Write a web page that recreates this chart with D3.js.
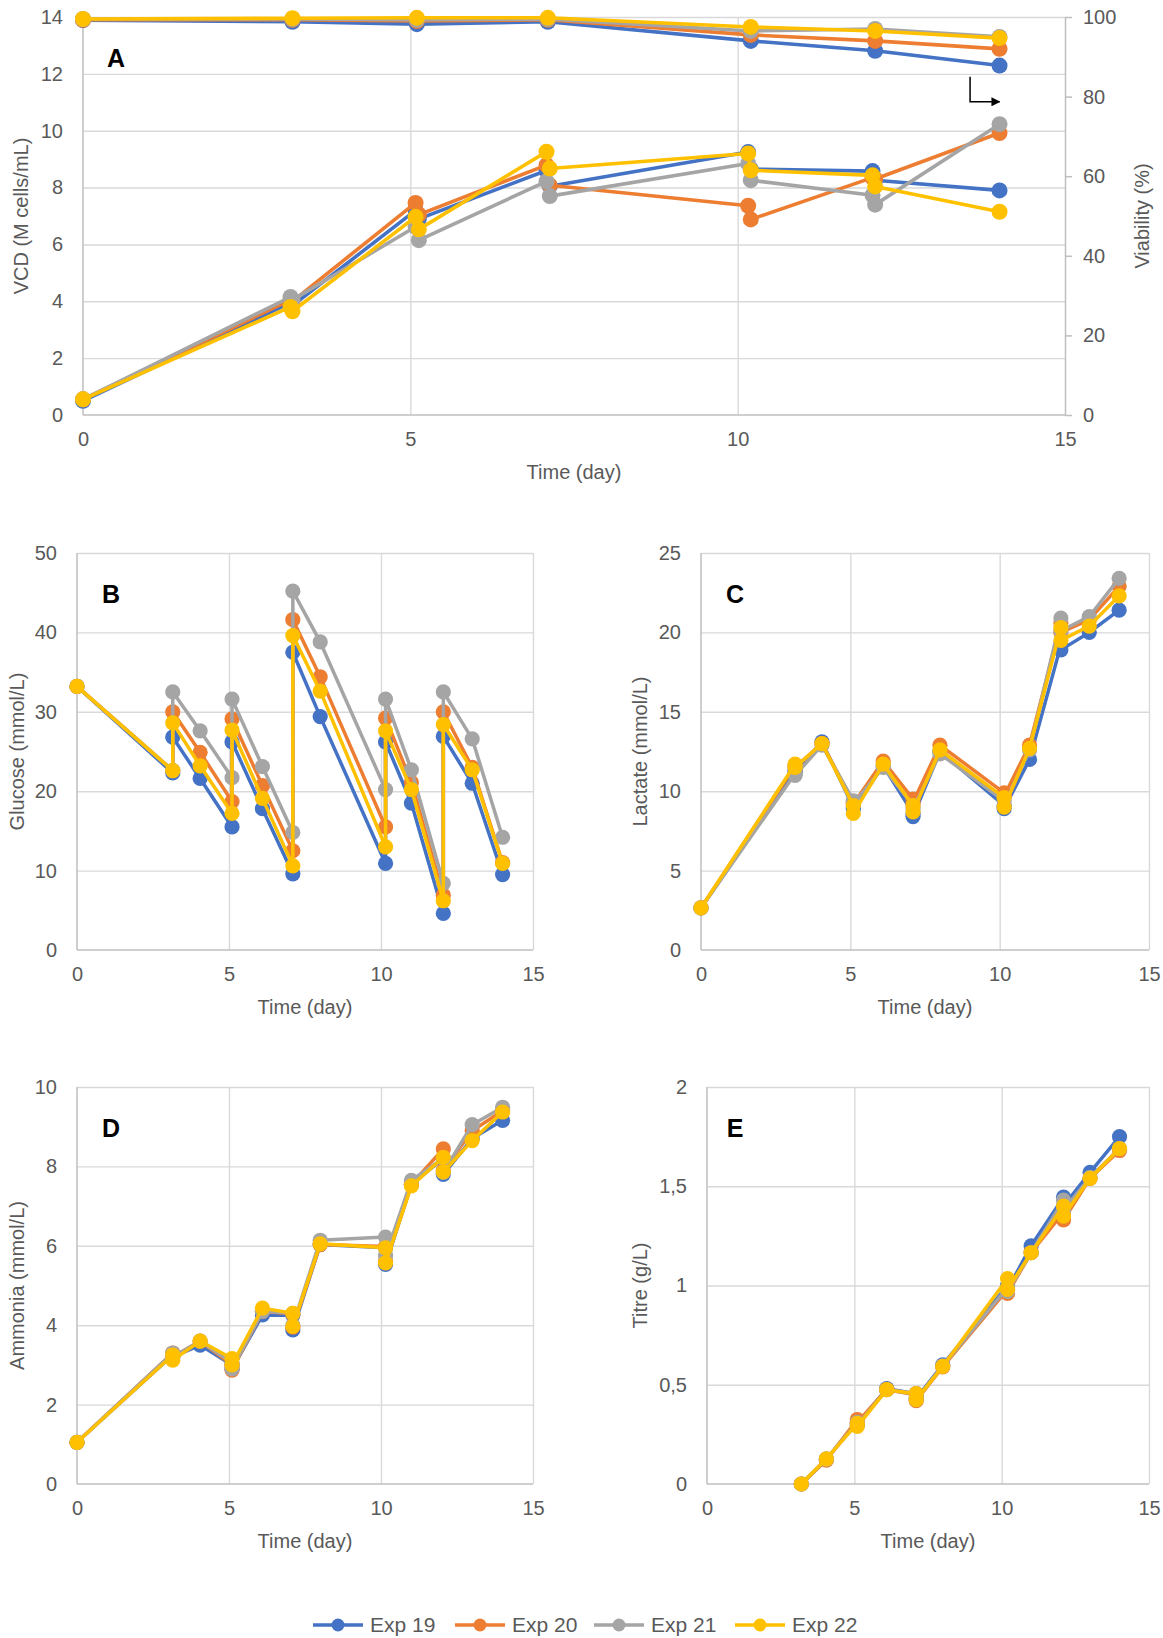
<!DOCTYPE html>
<html>
<head>
<meta charset="utf-8">
<script src="https://cdn.jsdelivr.net/npm/d3@7"></script>
<style>
  body { margin: 0; background: #fff; }
  text { font-family: "Liberation Sans", Arial, sans-serif; }
</style>
</head>
<body>
<svg id="chart" width="1163" height="1638"></svg>
<script>
  var seriesNames = ["Exp 19", "Exp 20", "Exp 21", "Exp 22"]
  var seriesColors = ["#4472C4", "#ED7D31", "#A5A5A5", "#FFC000"]
  var dayTicks = [0, 5, 10, 15]

  // panel A: VCD (left axis) and viability (right axis)
  var vcdDays = [0, 3.17, 3.2, 5.08, 5.13, 7.08, 7.13, 10.16, 10.2, 12.06, 12.1, 14]
  var vcd = [
    [0.5, 3.95, 3.85, 7.2, 6.9, 8.6, 8.05, 9.25, 8.65, 8.58, 8.26, 7.9],
    [0.55, 4.05, 4.0, 7.46, 7.05, 8.79, 8.08, 7.36, 6.88, 8.35, 8.3, 9.92],
    [0.55, 4.15, 4.05, 6.62, 6.15, 8.22, 7.7, 8.85, 8.26, 7.73, 7.4, 10.23],
    [0.55, 3.8, 3.65, 6.97, 6.53, 9.26, 8.67, 9.2, 8.61, 8.43, 8.04, 7.15]
  ]
  var vcdTicks = [0, 2, 4, 6, 8, 10, 12, 14]
  var viabilityDays = [0, 3.2, 5.1, 7.1, 10.2, 12.1, 14]
  var viability = [
    [99.2, 98.8, 98.2, 98.8, 94.0, 91.5, 87.8],
    [99.3, 99.3, 99.0, 99.3, 95.5, 94.0, 92.0],
    [99.5, 99.5, 99.3, 99.5, 96.5, 97.0, 95.0],
    [99.5, 99.7, 99.8, 99.8, 97.5, 96.5, 94.7]
  ]
  var viabilityTicks = [0, 20, 40, 60, 80, 100]

  // panels B, C, D: sampled before and after each feed
  var sampleDays = [0, 3.15, 3.15, 4.05, 5.1, 5.1, 6.1, 7.1, 7.1, 8, 10.15, 10.15, 11, 12.05, 12.05, 13, 14]
  var glucose = [
    [33.2, 22.3, 26.8, 21.6, 15.5, 26.2, 17.8, 9.6, 37.5, 29.4, 10.9, 26.2, 18.5, 4.6, 26.9, 21.0, 9.5],
    [33.2, 22.6, 30.0, 24.9, 18.7, 29.1, 20.7, 12.5, 41.6, 34.4, 15.5, 29.2, 21.1, 6.9, 30.0, 23.0, 11.0],
    [33.2, 22.6, 32.5, 27.6, 21.7, 31.6, 23.1, 14.8, 45.2, 38.8, 20.2, 31.6, 22.7, 8.4, 32.5, 26.6, 14.2],
    [33.2, 22.6, 28.6, 23.2, 17.2, 27.7, 19.1, 10.6, 39.6, 32.6, 13.0, 27.6, 20.2, 6.2, 28.4, 22.7, 10.9]
  ]
  var glucoseTicks = [0, 10, 20, 30, 40, 50]
  var lactate = [
    [2.65, 11.3, 11.2, 13.1, 9.0, 8.9, 11.6, 8.6, 8.4, 12.5, 9.1, 8.9, 12.0, 19.2, 18.9, 20.0, 21.4],
    [2.65, 11.6, 11.5, 13.0, 9.3, 9.2, 11.9, 9.5, 9.3, 12.9, 9.9, 9.7, 12.9, 20.6, 20.0, 20.8, 22.9],
    [2.65, 11.1, 11.0, 12.9, 9.4, 9.2, 11.5, 9.1, 8.9, 12.35, 9.4, 9.1, 12.6, 20.9, 20.1, 21.0, 23.4],
    [2.65, 11.7, 11.5, 13.0, 9.1, 8.6, 11.7, 9.1, 8.7, 12.6, 9.6, 9.0, 12.7, 20.3, 19.5, 20.4, 22.3]
  ]
  var lactateTicks = [0, 5, 10, 15, 20, 25]
  var ammonia = [
    [1.05, 3.25, 3.2, 3.5, 3.0, 2.9, 4.26, 4.25, 3.88, 6.03, 5.95, 5.53, 7.55, 8.2, 7.8, 8.7, 9.16],
    [1.05, 3.3, 3.2, 3.6, 3.0, 2.87, 4.35, 4.28, 3.95, 6.03, 5.98, 5.6, 7.55, 8.44, 7.9, 8.9, 9.4],
    [1.05, 3.3, 3.2, 3.6, 3.05, 2.9, 4.35, 4.3, 4.0, 6.14, 6.22, 5.75, 7.65, 8.2, 7.85, 9.05, 9.49],
    [1.05, 3.25, 3.12, 3.6, 3.16, 3.0, 4.43, 4.3, 3.97, 6.05, 5.95, 5.57, 7.51, 8.23, 7.86, 8.65, 9.37]
  ]
  var ammoniaTicks = [0, 2, 4, 6, 8, 10]

  // panel E: titre starts at day 3
  var titreDays = [3.2, 4.05, 5.1, 5.1, 6.1, 7.1, 7.1, 8, 10.2, 10.2, 11, 12.1, 12.1, 13, 14]
  var titre = [
    [0, 0.125, 0.31, 0.3, 0.48, 0.455, 0.43, 0.6, 1.0, 0.98, 1.2, 1.445, 1.4, 1.57, 1.75],
    [0, 0.12, 0.325, 0.31, 0.475, 0.45, 0.42, 0.59, 0.98, 0.96, 1.165, 1.37, 1.33, 1.54, 1.68],
    [0, 0.125, 0.31, 0.295, 0.475, 0.455, 0.425, 0.595, 0.99, 0.97, 1.165, 1.43, 1.38, 1.545, 1.69],
    [0, 0.127, 0.305, 0.29, 0.475, 0.455, 0.425, 0.593, 1.035, 0.98, 1.165, 1.4, 1.35, 1.54, 1.69]
  ]
  var titreTicks = [0, 0.5, 1, 1.5, 2]

  var svg = d3.select('#chart')
  var gridColor = "#d9d9d9"
  var axisColor = "#bfbfbf"
  var labelColor = "#595959"

  function drawSeries(g, x, y, days, values, r, w) {
    var line = d3.line()
      .x(function (d) { return x(d[0]) })
      .y(function (d) { return y(d[1]) })
    values.forEach(function (vals, i) {
      var pts = days.map(function (d, j) { return [d, vals[j]] })
      g.append("path")
        .attr("d", line(pts))
        .attr("fill", "none")
        .attr("stroke", seriesColors[i])
        .attr("stroke-width", w)
        .attr("stroke-linejoin", "round")
      g.append("g").selectAll("circle")
        .data(pts)
        .enter().append("circle")
        .attr("cx", function (d) { return x(d[0]) })
        .attr("cy", function (d) { return y(d[1]) })
        .attr("r", r)
        .attr("fill", seriesColors[i])
    })
  }

  function drawPanel(p) {
    var g = svg.append("g")
    var x = d3.scaleLinear().domain([0, 15]).range([p.left, p.right])
    var y = d3.scaleLinear().domain([0, p.yTicks[p.yTicks.length - 1]]).range([p.bottom, p.top])

    // grid
    g.append("g")
      .attr("transform", "translate(" + p.left + ",0)")
      .call(d3.axisLeft(y).tickValues(p.yTicks.slice(1)).tickSize(-(p.right - p.left)).tickFormat(""))
      .call(function (s) { s.select(".domain").remove() })
      .selectAll("line").attr("stroke", gridColor).attr("stroke-width", 1.4)
    g.append("g")
      .attr("transform", "translate(0," + p.bottom + ")")
      .call(d3.axisBottom(x).tickValues(p.xGrid).tickSize(-(p.bottom - p.top)).tickFormat(""))
      .call(function (s) { s.select(".domain").remove() })
      .selectAll("line").attr("stroke", gridColor).attr("stroke-width", 1.4)

    // axis lines
    g.append("line").attr("x1", p.left).attr("x2", p.left).attr("y1", p.top).attr("y2", p.bottom)
      .attr("stroke", axisColor).attr("stroke-width", 1.5)
    g.append("line").attr("x1", p.left).attr("x2", p.right).attr("y1", p.bottom).attr("y2", p.bottom)
      .attr("stroke", axisColor).attr("stroke-width", 1.5)

    // tick labels
    var yAxis = g.append("g")
      .attr("transform", "translate(" + p.left + ",0)")
      .call(d3.axisLeft(y).tickValues(p.yTicks).tickSize(0).tickPadding(20).tickFormat(p.fmt || d3.format("d")))
    yAxis.select(".domain").remove()
    yAxis.selectAll("text").attr("font-size", 20).attr("fill", labelColor)
      .style("font-family", '"Liberation Sans", Arial, sans-serif')

    var xAxis = g.append("g")
      .attr("transform", "translate(0," + p.bottom + ")")
      .call(d3.axisBottom(x).tickValues(dayTicks).tickSize(0).tickPadding(17))
    xAxis.select(".domain").remove()
    xAxis.selectAll("text").attr("font-size", 20).attr("fill", labelColor)
      .style("font-family", '"Liberation Sans", Arial, sans-serif')

    // titles
    g.append("text")
      .attr("x", (p.left + p.right) / 2).attr("y", p.bottom + 64)
      .attr("text-anchor", "middle").attr("font-size", 20).attr("fill", labelColor)
      .text("Time (day)")
    g.append("text")
      .attr("transform", "translate(" + p.titleX + "," + (p.top + p.bottom) / 2 + ") rotate(-90)")
      .attr("dy", "0.35em")
      .attr("text-anchor", "middle").attr("font-size", 20).attr("fill", labelColor)
      .text(p.title)
    g.append("text")
      .attr("x", p.letterX).attr("y", p.top + 50)
      .attr("text-anchor", "middle").attr("font-size", 25).attr("font-weight", "bold").attr("fill", "#000")
      .text(p.letter)

    return { g: g, x: x, y: y }
  }

  // ---- panel A
  var pa = drawPanel({
    left: 83, right: 1065, top: 17, bottom: 415, letterX: 116,
    yTicks: vcdTicks, xGrid: [5, 10], title: "VCD (M cells/mL)", titleX: 21, letter: "A"
  })
  var yR = d3.scaleLinear().domain([0, 100]).range([415, 17])
  var rAxis = pa.g.append("g")
    .attr("transform", "translate(1065,0)")
    .call(d3.axisRight(yR).tickValues(viabilityTicks).tickSize(7).tickSizeOuter(0).tickPadding(11))
  rAxis.select(".domain").attr("stroke", axisColor).attr("stroke-width", 1.5)
  rAxis.selectAll("line").attr("stroke", axisColor).attr("stroke-width", 1.5)
  rAxis.selectAll("text").attr("font-size", 20).attr("fill", labelColor)
    .style("font-family", '"Liberation Sans", Arial, sans-serif')
  pa.g.append("text")
    .attr("transform", "translate(1142,216) rotate(-90)")
    .attr("dy", "0.35em")
    .attr("text-anchor", "middle").attr("font-size", 20).attr("fill", labelColor)
    .text("Viability (%)")

  drawSeries(pa.g, pa.x, pa.y, vcdDays, vcd, 8, 3.6)
  drawSeries(pa.g, pa.x, yR, viabilityDays, viability, 8, 3.6)

  // arrow pointing to the right axis
  svg.append("defs").append("marker")
    .attr("id", "head").attr("viewBox", "0 0 10 10").attr("refX", 9).attr("refY", 5)
    .attr("markerWidth", 6).attr("markerHeight", 6).attr("orient", "auto")
    .append("path").attr("d", "M0,0L10,5L0,10z").attr("fill", "#000")
  pa.g.append("path")
    .attr("d", "M" + pa.x(13.55) + "," + yR(85) + "V" + yR(78.7) + "H" + pa.x(14))
    .attr("fill", "none").attr("stroke", "#000").attr("stroke-width", 1.5)
    .attr("marker-end", "url(#head)")

  // ---- panel B
  var pb = drawPanel({
    left: 77, right: 533, top: 553, bottom: 950, letterX: 111,
    yTicks: glucoseTicks, xGrid: [5, 10, 15], title: "Glucose (mmol/L)", titleX: 17, letter: "B"
  })
  drawSeries(pb.g, pb.x, pb.y, sampleDays, glucose, 7.6, 3.5)

  // ---- panel C
  var pc = drawPanel({
    left: 701, right: 1149, top: 553, bottom: 950, letterX: 735,
    yTicks: lactateTicks, xGrid: [5, 10, 15], title: "Lactate (mmol/L)", titleX: 640, letter: "C"
  })
  drawSeries(pc.g, pc.x, pc.y, sampleDays, lactate, 7.6, 3.5)

  // ---- panel D
  var pd = drawPanel({
    left: 77, right: 533, top: 1087, bottom: 1484, letterX: 111,
    yTicks: ammoniaTicks, xGrid: [5, 10, 15], title: "Ammonia (mmol/L)", titleX: 17, letter: "D"
  })
  drawSeries(pd.g, pd.x, pd.y, sampleDays, ammonia, 7.6, 3.5)

  // ---- panel E
  var pe = drawPanel({
    left: 707, right: 1149, top: 1087, bottom: 1484, letterX: 735,
    yTicks: titreTicks, xGrid: [5, 10, 15], title: "Titre (g/L)", titleX: 640, letter: "E",
    fmt: function (d) { return String(d).replace(".", ",") }
  })
  drawSeries(pe.g, pe.x, pe.y, titreDays, titre, 7.6, 3.5)

  // ---- legend
  var legendX = [313, 455, 594, 735]
  var legend = svg.append("g").attr("transform", "translate(0,1625)")
  seriesNames.forEach(function (name, i) {
    var item = legend.append("g").attr("transform", "translate(" + legendX[i] + ",0)")
    item.append("line").attr("x1", 0).attr("x2", 50).attr("y1", 0).attr("y2", 0)
      .attr("stroke", seriesColors[i]).attr("stroke-width", 3.5)
    item.append("circle").attr("cx", 25).attr("cy", 0).attr("r", 6.5).attr("fill", seriesColors[i])
    item.append("text").attr("x", 57).attr("dy", "0.35em")
      .attr("font-size", 21).attr("fill", labelColor).text(name)
  })
</script>
</body>
</html>
